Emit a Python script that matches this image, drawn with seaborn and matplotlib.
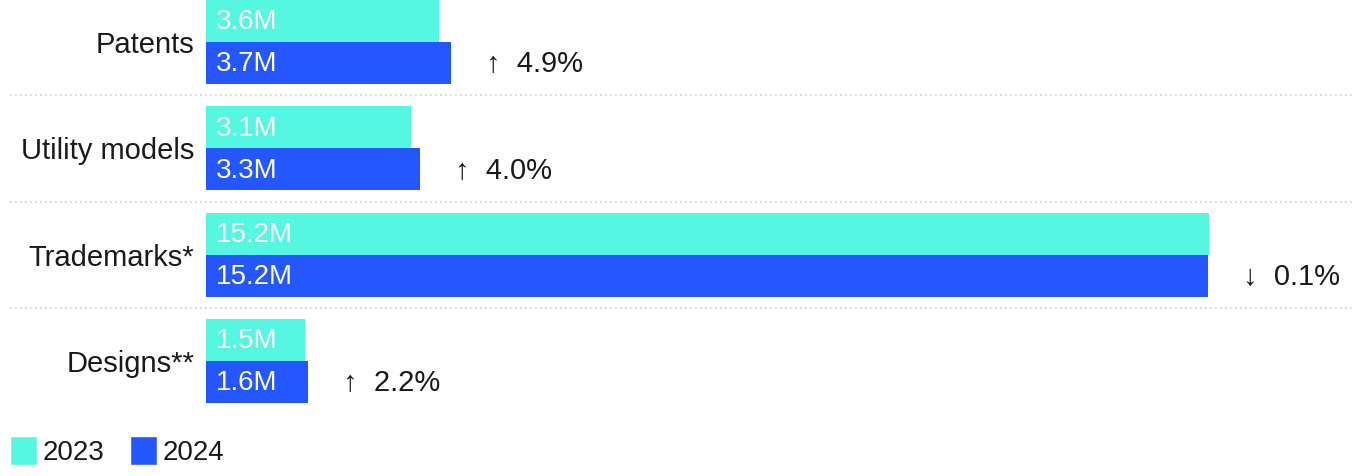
import matplotlib
matplotlib.use("Agg")
import matplotlib.pyplot as plt
from matplotlib.patches import Patch
from matplotlib.transforms import blended_transform_factory
import seaborn as sns
import pandas as pd

# values (millions of applications)
categories = ["Patents", "Utility models", "Trademarks*", "Designs**"]
years = ["2023", "2024"]
values_2023 = [3.53, 3.11, 15.20, 1.50]
values_2024 = [3.71, 3.24, 15.18, 1.55]
labels_2023 = ["3.6M", "3.1M", "15.2M", "1.5M"]
labels_2024 = ["3.7M", "3.3M", "15.2M", "1.6M"]
changes = ["\u2191  4.9%", "\u2191  4.0%", "\u2193  0.1%", "\u2191  2.2%"]

colors = {"2023": "#55f7e0", "2024": "#2457ff"}

sns.set_theme(style="white")
plt.rcParams["font.family"] = ["Liberation Sans", "DejaVu Sans"]

df = pd.DataFrame({
    "category": categories * 2,
    "year": ["2023"] * 4 + ["2024"] * 4,
    "value": values_2023 + values_2024,
})

fig = plt.figure(figsize=(13.68, 4.76), dpi=100)
W, H = 1368, 476
# axes: x=0 at 206px, top at 0px, bottom at 414px
ax = fig.add_axes([206 / W, 1 - 414 / H, (W - 206) / W, 414 / H])

sns.barplot(
    data=df, x="value", y="category", hue="year", order=categories,
    hue_order=years, palette=colors, orient="h", width=0.79,
    saturation=1, linewidth=0, legend=False, ax=ax,
)

ax.set_xlim(0, (W - 206) / 66)
ax.set_ylim(3.498, -0.395)
ax.set_xlabel("")
ax.set_ylabel("")
ax.set_xticks([])
for s in ax.spines.values():
    s.set_visible(False)
ax.tick_params(axis="y", length=0, pad=8.5, labelsize=21, labelcolor="#1a1a1a")

# value labels inside the bars
for container, labels in zip(ax.containers, [labels_2023, labels_2024]):
    for bar, lab in zip(container, labels):
        ax.annotate(lab, (0, bar.get_y() + bar.get_height() / 2),
                    xytext=(7, -1), textcoords="offset points",
                    ha="left", va="center", color="white", fontsize=20)

# change annotations next to the 2024 bars
for bar, txt in zip(ax.containers[1], changes):
    ax.annotate(txt, (bar.get_width(), bar.get_y() + bar.get_height() / 2),
                xytext=(25, -1), textcoords="offset points",
                ha="left", va="center", color="#1a1a1a", fontsize=21)

# dotted separators between groups
trans = blended_transform_factory(fig.transFigure, ax.transData)
for i in range(len(categories) - 1):
    ax.plot([10 / W, 1355 / W], [i + 0.5, i + 0.5], transform=trans,
            color="#cfcfcf", linestyle=(0, (1, 2)), linewidth=1.2, clip_on=False)

handles = [Patch(facecolor=colors[y], label=y) for y in years]
fig.legend(handles=handles, loc="lower left", bbox_to_anchor=(10 / W, 10 / H),
           frameon=False, fontsize=20, handlelength=0.97, handleheight=1.25,
           handletextpad=0.22, columnspacing=0.9, ncol=2, borderpad=0,
           borderaxespad=0, labelcolor="#1a1a1a")

fig.savefig("out.png", dpi=100)
